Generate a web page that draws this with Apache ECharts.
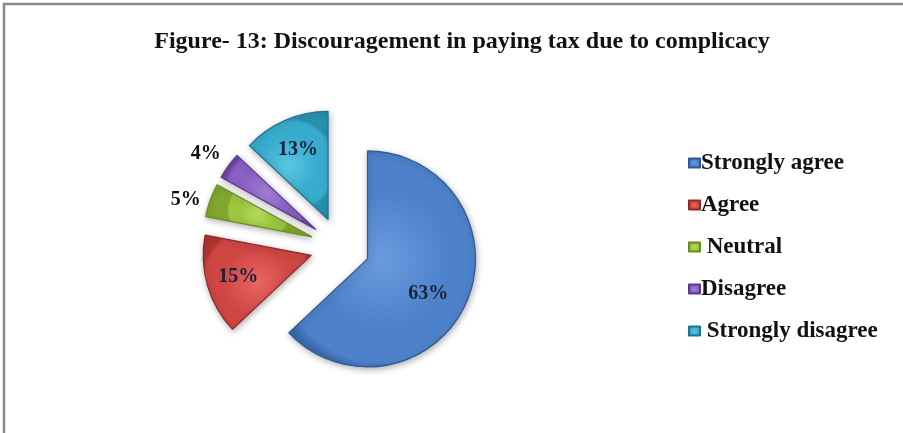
<!DOCTYPE html>
<html>
<head>
<meta charset="utf-8">
<style>
  html, body { margin: 0; padding: 0; background: #ffffff; }
  #chart { width: 903px; height: 433px; }
</style>
<script src="https://cdn.jsdelivr.net/npm/echarts@6/dist/echarts.min.js"></script>
</head>
<body>
<div id="chart"></div>
<script>
// Survey responses: discouragement in paying tax due to complicacy
const categories = ['Strongly agree', 'Agree', ' Neutral', 'Disagree', ' Strongly disagree'];
const shares = [63, 15, 5, 4, 13];
const titleText = 'Figure- 13: Discouragement in paying tax due to complicacy';

// bevelled palette: [highlight, base, edge shade, outline]
const palette = [
  ['#6a9be0', '#4d81c9', '#3a6aad', '#2f5790'],
  ['#e86663', '#d04643', '#b03431', '#8c2a28'],
  ['#b8e063', '#9cc63f', '#80a82c', '#6a8a24'],
  ['#a27cd8', '#8a60c4', '#6e48a6', '#58388a'],
  ['#5cc6e2', '#38acce', '#2790b0', '#1f7590']
];

// slices whose value label sits outside the wedge
const outsideLabel = [false, false, true, true, false];
// small nudges of the value labels, in pixels
const labelNudge = [[-9, 5], [0, 0], [2, 9], [0, 4], [0, 0]];

const serif = '"Liberation Serif", "DejaVu Serif", serif';
const centre = [340, 247];
const offset = 30;

function bevel(c) {
  return {
    type: 'radial', x: 0.5, y: 0.5, r: 0.6,
    colorStops: [
      { offset: 0, color: c[0] },
      { offset: 0.6, color: c[1] },
      { offset: 0.92, color: c[1] },
      { offset: 1, color: c[2] }
    ]
  };
}

const sliceData = categories.map((name, i) => {
  const style = {
    color: bevel(palette[i]),
    borderColor: palette[i][3],
    borderWidth: 1.2,
    shadowBlur: 6,
    shadowColor: 'rgba(0,0,0,0.3)',
    shadowOffsetX: 1,
    shadowOffsetY: 2
  };
  return {
    name, value: shares[i], selected: true,
    itemStyle: style,
    select: { itemStyle: style }
  };
});

// transparent twins carrying the value labels
function labelData(showFn) {
  return categories.map((name, i) => ({
    name, value: shares[i], selected: true,
    itemStyle: { color: 'rgba(0,0,0,0)', borderWidth: 0 },
    select: { itemStyle: { color: 'rgba(0,0,0,0)', borderWidth: 0 } },
    label: { show: showFn(i) }
  }));
}

function nudge(params) {
  const n = labelNudge[params.dataIndex];
  return { dx: n[0], dy: n[1] };
}

const labelFont = {
  fontFamily: serif, fontWeight: 'bold', fontSize: 20
};

const chart = echarts.init(document.getElementById('chart'), null, { renderer: 'canvas' });

const common = {
  type: 'pie',
  center: centre,
  startAngle: 90,
  clockwise: true,
  selectedMode: 'multiple',
  selectedOffset: offset,
  animation: false,
  emphasis: { disabled: true },
  labelLine: { show: false }
};

chart.setOption({
  backgroundColor: '#ffffff',
  title: {
    text: titleText,
    left: 457,
    top: 25,
    textAlign: 'center',
    textStyle: { fontFamily: serif, fontWeight: 'bold', fontSize: 24, color: '#111111' }
  },
  legend: {
    orient: 'vertical',
    left: 683,
    top: 146,
    itemWidth: 11,
    itemHeight: 9,
    itemGap: 18,
    icon: 'rect',
    selectedMode: false,
    data: categories,
    textStyle: {
      fontFamily: serif, fontWeight: 'bold', fontSize: 23,
      color: '#111111', lineHeight: 24, padding: [0, 0, 0, -4]
    }
  },
  graphic: [{
    type: 'rect',
    shape: { x: 4, y: 4, width: 1200, height: 1200 },
    style: { fill: 'none', stroke: '#8a8a8a', lineWidth: 2.5 },
    silent: true
  }],
  series: [
    Object.assign({}, common, {
      name: 'slices',
      radius: [0, 108],
      label: { show: false },
      data: sliceData
    }),
    Object.assign({}, common, {
      name: 'inner labels',
      radius: [38, 108],
      silent: true,
      label: Object.assign({ position: 'inside', formatter: '{c}%', color: '#18223a' }, labelFont),
      labelLayout: nudge,
      data: labelData(i => !outsideLabel[i])
    }),
    Object.assign({}, common, {
      name: 'outer labels',
      radius: [106, 160],
      silent: true,
      label: Object.assign({ position: 'inside', formatter: '{c}%', color: '#111111' }, labelFont),
      labelLayout: nudge,
      data: labelData(i => outsideLabel[i])
    })
  ]
});
</script>
</body>
</html>
